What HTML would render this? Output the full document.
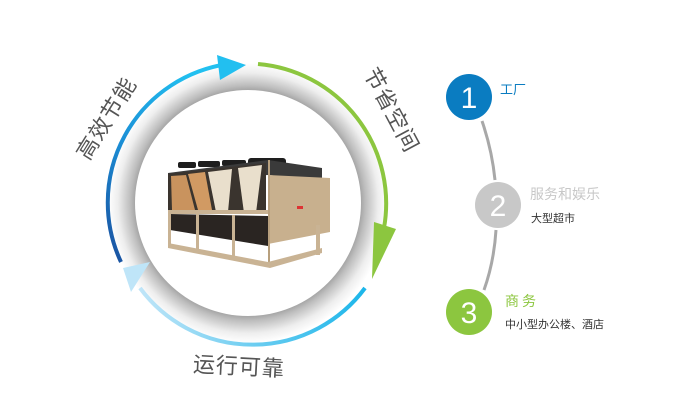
<!DOCTYPE html>
<html><head><meta charset="utf-8"><style>
html,body{margin:0;padding:0;background:#fff;}
body{width:695px;height:415px;overflow:hidden;position:relative;font-family:"Liberation Sans","Noto Sans CJK SC",sans-serif;}
.t{position:absolute;white-space:nowrap;}
</style></head><body>
<svg width="695" height="415" style="position:absolute;left:0;top:0">
<defs>
<radialGradient id="sh" cx="248" cy="203" r="140" gradientUnits="userSpaceOnUse">
<stop offset="0.79" stop-color="#9a9a9a"/>
<stop offset="0.84" stop-color="#bdbdbd"/>
<stop offset="0.93" stop-color="#eeeeee"/>
<stop offset="1" stop-color="#ffffff"/>
</radialGradient>
<linearGradient id="gb" x1="0" y1="1" x2="0.6" y2="0">
<stop offset="0" stop-color="#1a4f9e"/><stop offset="0.5" stop-color="#1b8fd6"/><stop offset="1" stop-color="#22c0f0"/>
</linearGradient>
<linearGradient id="gl" x1="1" y1="0" x2="0" y2="0">
<stop offset="0" stop-color="#1cb6ea"/><stop offset="1" stop-color="#bfe5f8"/>
</linearGradient>
</defs>
<circle cx="248" cy="203" r="140" fill="url(#sh)"/>
<circle cx="248" cy="203" r="113" fill="#fff"/>
<path d="M121,262 A140,140 0 0 1 228,64" fill="none" stroke="url(#gb)" stroke-width="4"/>
<polygon points="246,65 217,55 220,80" fill="#22bff0"/>
<path d="M258,64 A140,140 0 0 1 384,228" fill="none" stroke="#8cc63f" stroke-width="4"/>
<polygon points="372,279 374,222 396,229" fill="#8cc63f"/>
<path d="M365,288 A140,140 0 0 1 140,288" fill="none" stroke="url(#gl)" stroke-width="4"/>
<polygon points="123,268 150,262 131,292" fill="#bfe5f8"/>
<!-- machine -->
<g>
<rect x="178" y="162" width="18" height="6" rx="2" fill="#1e1e1e"/>
<rect x="198" y="161" width="22" height="6" rx="2" fill="#1e1e1e"/>
<rect x="222" y="160" width="24" height="6" rx="2" fill="#1e1e1e"/>
<rect x="248" y="158" width="38" height="8" rx="3" fill="#1e1e1e"/>
<polygon points="168,173 268,160 322,168 322,180 268,175 168,180" fill="#3a3a3a"/>
<polygon points="168,174 266,163 266,213 168,212" fill="#3a342e"/>
<polygon points="171,176 186,175 195,210 172,210" fill="#c9935e"/>
<polygon points="188,174 205,172 212,210 198,210" fill="#d19a63"/>
<polygon points="208,172 232,169 228,212 216,212" fill="#e9dfcc"/>
<polygon points="238,168 262,165 256,213 244,213" fill="#e9dfcc"/>
<polygon points="268,175 330,178 330,232 268,244" fill="#c8b08e"/>
<polygon points="268,160 270,160 270,266 268,266" fill="#b8a07e"/>
<rect x="168" y="210" width="100" height="4" fill="#c9b394"/>
<polygon points="170,214 268,216 268,246 170,230" fill="#2a2522"/>
<rect x="168" y="212" width="3" height="34" fill="#c9b394"/>
<rect x="196" y="213" width="3" height="38" fill="#c9b394"/>
<rect x="232" y="215" width="3" height="44" fill="#c9b394"/>
<polygon points="168,243 268,262 322,248 322,253 270,268 168,248" fill="#c9b394"/>
<rect x="316" y="225" width="4" height="30" fill="#c9b394"/>
<rect x="297" y="206" width="6" height="3" fill="#d33"/>
</g>
<path d="M482,121 Q492,150 495,180" fill="none" stroke="#a8a8a8" stroke-width="3"/>
<path d="M496,230 Q494,262 484,290" fill="none" stroke="#a8a8a8" stroke-width="3"/>
<circle cx="469" cy="97" r="23" fill="#0a7cc1"/>
<circle cx="498" cy="205" r="23" fill="#c8c8c8"/>
<circle cx="469" cy="312" r="23" fill="#8cc63f"/>
<text x="469" y="108" font-size="30" fill="#fff" text-anchor="middle" font-family="Liberation Sans">1</text>
<text x="498" y="216" font-size="30" fill="#fff" text-anchor="middle" font-family="Liberation Sans">2</text>
<text x="469" y="323" font-size="30" fill="#fff" text-anchor="middle" font-family="Liberation Sans">3</text>
</svg>
<div class="t" style="left:60px;top:104px;width:96px;height:26px;line-height:26px;font-size:22px;color:#555;transform:rotate(-58deg);transform-origin:center;letter-spacing:1px">高效节能</div>
<div class="t" style="left:344px;top:99px;width:96px;height:26px;line-height:26px;font-size:22px;color:#555;transform:rotate(62deg);transform-origin:center;letter-spacing:1px">节省空间</div>
<div class="t" style="left:193px;top:349px;font-size:22px;color:#555;transform:rotate(3deg);letter-spacing:1px">运行可靠</div>
<div class="t" style="left:500px;top:79px;font-size:13px;color:#0a7cc1">工厂</div>
<div class="t" style="left:530px;top:184px;font-size:14px;color:#c8c8c8">服务和娱乐</div>
<div class="t" style="left:531px;top:210px;font-size:11px;color:#333">大型超市</div>
<div class="t" style="left:505px;top:291px;font-size:14px;color:#8cc63f;letter-spacing:3px">商务</div>
<div class="t" style="left:505px;top:316px;font-size:11px;color:#333">中小型办公楼、酒店</div>
</body></html>
